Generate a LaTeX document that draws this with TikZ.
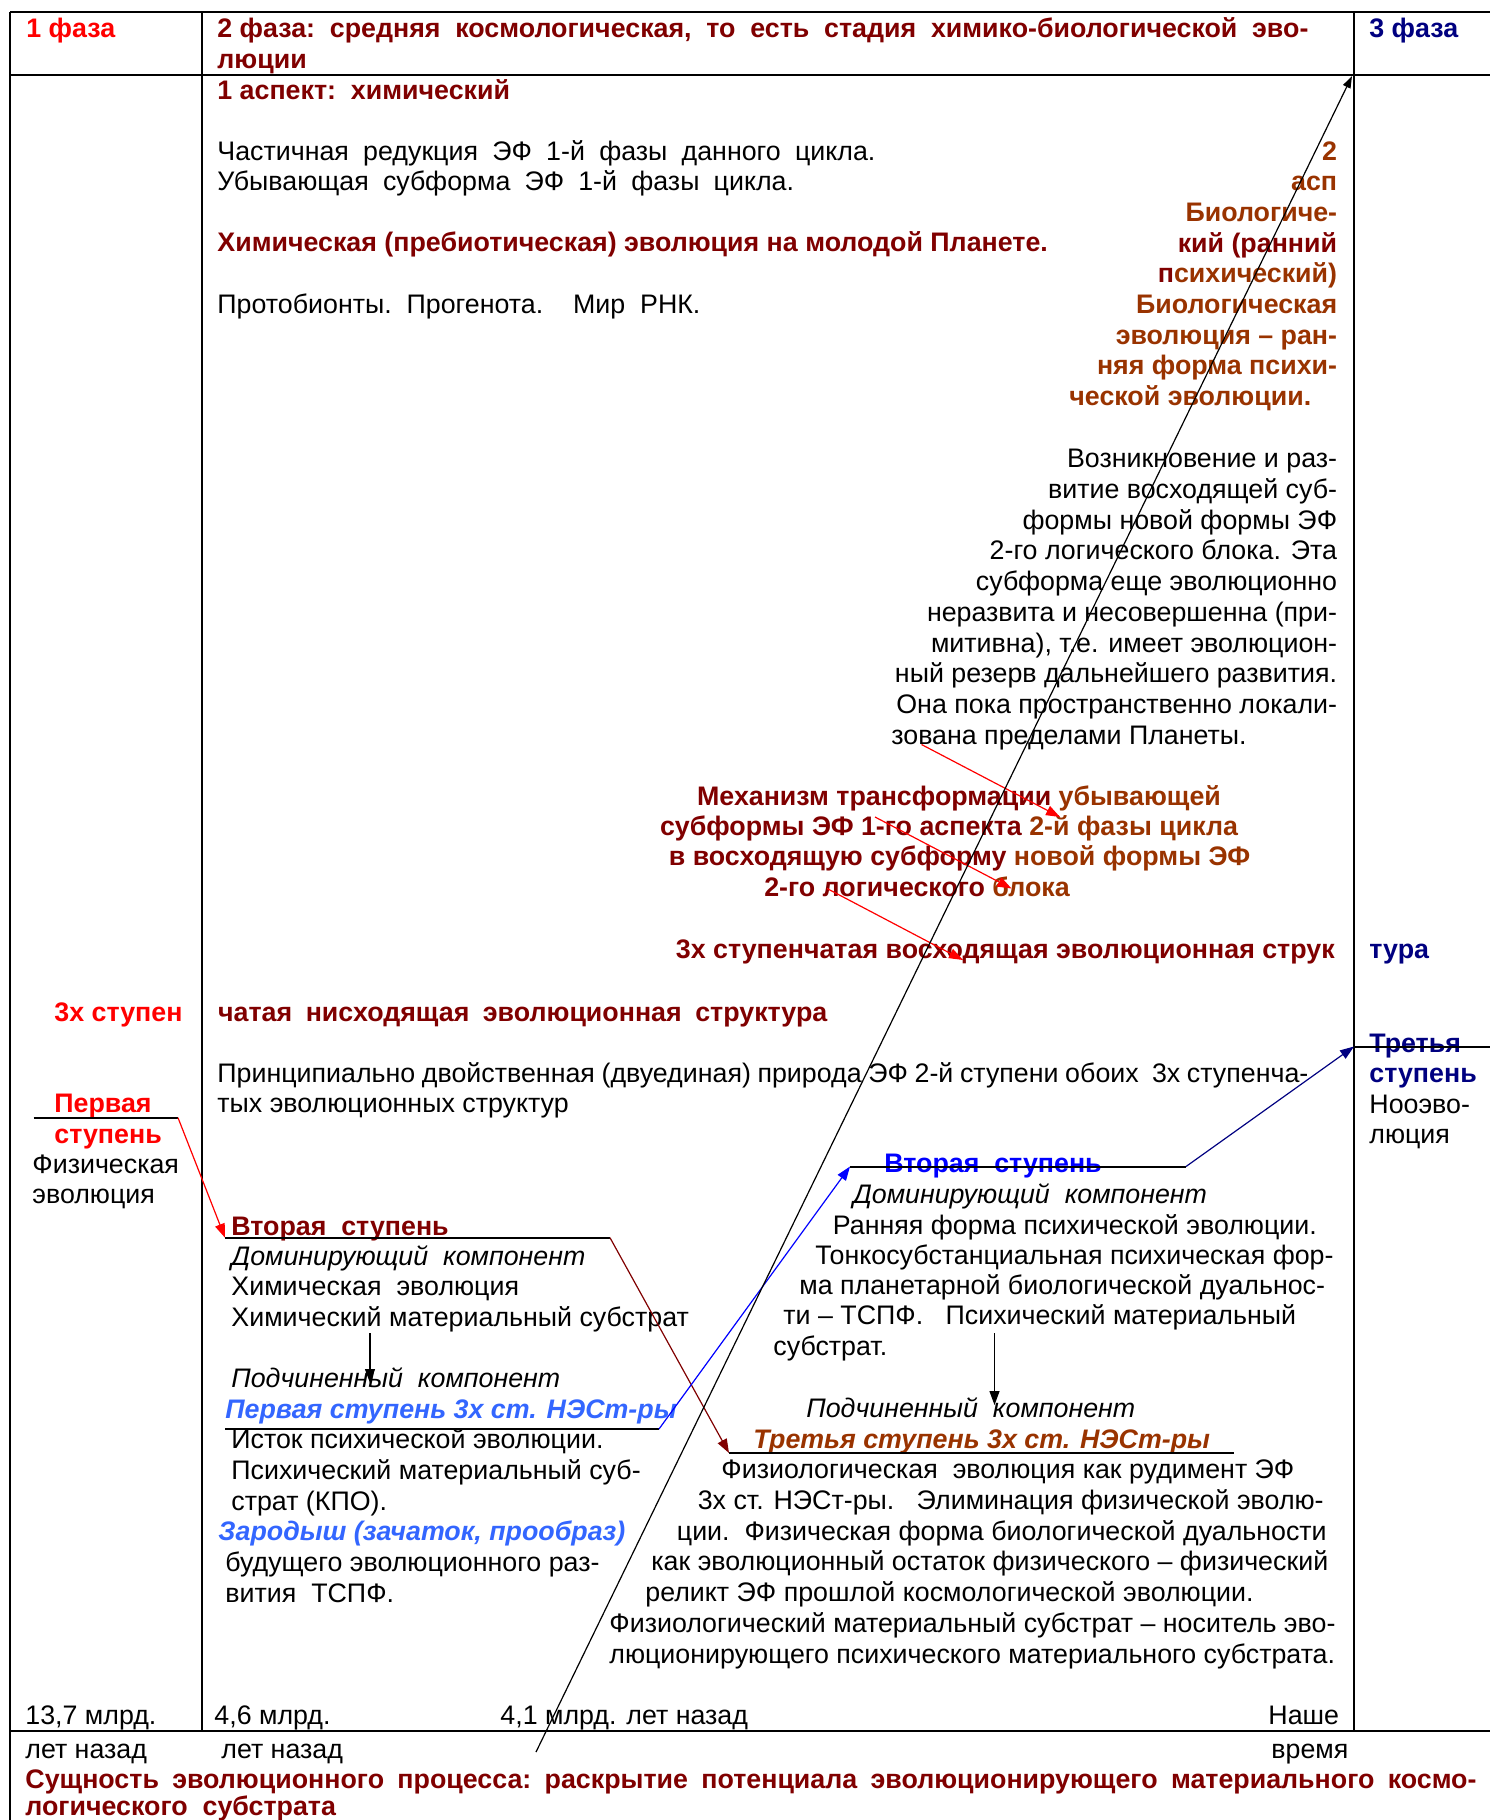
\documentclass[tikz,border=0pt]{standalone}
\usepackage{fontspec}
\setmainfont{Liberation Sans}
\usetikzlibrary{arrows.meta}
\definecolor{phasered}{RGB}{255,0,0}
\definecolor{maroonred}{RGB}{128,0,0}
\definecolor{rustbrown}{RGB}{153,51,0}
\definecolor{navyblue}{RGB}{0,0,128}
\definecolor{brightblue}{RGB}{51,102,255}
\definecolor{pureblue}{RGB}{0,0,255}
\newcommand\bodysize{\fontsize{13.4}{15.25}\selectfont}

\begin{document}
\begin{tikzpicture}[x=0.5pt,y=-0.5pt,
    every node/.style={inner sep=0pt,font=\bodysize},
    lft/.style={anchor=base west},
    rgt/.style={anchor=base east},
    bf/.style={font=\bodysize\bfseries},
    itl/.style={font=\bodysize\itshape},
    bfit/.style={font=\bodysize\bfseries\itshape},
    rule/.style={line width=1pt},
    link/.style={line width=0.6pt},
    tipped/.style={-{Triangle[length=7pt,width=5pt]}}]
    \useasboundingbox (0,0) rectangle (1490,1820);

    % table frame
    \draw[rule] (10,12) -- (1490,12);
    \draw[rule] (10,75) -- (1490,75);
    \draw[rule] (10,1731) -- (1490,1731);
    \draw[rule] (10,12) -- (10,1820);
    \draw[rule] (202,12) -- (202,1731);
    \draw[rule] (1354,12) -- (1354,1731);

    % header row
    \node[lft,bf,text=phasered] (ph1) at (26,37) {1 фаза};
    \node[lft,bf,text=maroonred] (ph2) at (217,37) {\makebox[545.5pt][s]{2 фаза:\ \ средняя\ \ космологическая,\ \ то\ \ есть\ \ стадия\ \ химико-биологической\ \ эво-}};
    \node[lft,bf,text=maroonred] (ph2b) at (217,68) {люции};
    \node[lft,bf,text=navyblue] (ph3) at (1369,37) {3 фаза};

    % first aspect
    \node[lft,bf,text=maroonred] (asp1) at (217,99.5) {1 аспект:\ \ химический};
    \node[lft] (red1) at (217,160) {\makebox[329pt][s]{Частичная редукция ЭФ 1-й фазы данного цикла.}};
    \node[lft] (red2) at (217,190) {\makebox[288.3pt][s]{Убывающая субформа ЭФ 1-й фазы цикла.}};
    \node[lft,bf,text=maroonred] (chem) at (217,251.7) {Химическая (пребиотическая) эволюция на молодой Планете.};
    \node[lft] (proto) at (217,313) {Протобионты.\ \ Прогенота.\ \ \ \ Мир\ \ РНК.};

    % second aspect
    \foreach \t [count=\i] in {2, асп, Биологиче-, {\color{maroonred}кий (ранний}, {\color{maroonred}п}сихический), Биологическая, эволюция – ран-, няя форма психи-}
        \node[rgt,bf,text=rustbrown] (bio\i) at (1337.5,{129.3+30.7*\i}) {\t};
    \node[lft,bf,text=rustbrown] (bio9) at (1069,405) {ческой эволюции.};

    \foreach \t [count=\i] in {Возникновение и раз-, витие восходящей суб-, формы новой формы ЭФ, 2-го логического блока. Эта, субформа еще эволюционно, неразвита и несовершенна (при-, {митивна), т.е. имеет эволюцион-}, ный резерв дальнейшего развития., Она пока пространственно локали-}
        \node[rgt] (rise\i) at (1337.5,{437.1+30.7*\i}) {\t};
    \node[lft] (rise10) at (891,744.5) {зована пределами Планеты.};

    % mechanism
    \node[bf,anchor=base] (mech1) at (959,805) {\color{maroonred}Механизм трансформации \color{rustbrown}убывающей};
    \node[bf,anchor=base] (mech2) at (949,835) {\color{maroonred}субформы ЭФ 1-го аспекта \color{rustbrown}2-й фазы цикла};
    \node[bf,anchor=base] (mech3) at (959.5,865.5) {\color{maroonred}в восходящую субформу \color{rustbrown}новой формы ЭФ};
    \node[bf,anchor=base] (mech4) at (917,896) {\color{maroonred}2-го логического \color{rustbrown}блока};

    \node[lft,bf,text=maroonred] (up1) at (675.5,958.5) {3х ступенчатая восходящая эволюционная струк};
    \node[lft,bf,text=navyblue] (up2) at (1369,958.5) {тура};
    \node[lft,bf,text=phasered] (down1) at (54,1021) {3х ступен};
    \node[lft,bf,text=maroonred] (down2) at (217.7,1021) {\makebox[304.6pt][s]{чатая нисходящая эволюционная структура}};
    \node[lft] (dual1) at (217,1082.5) {\makebox[545.5pt][s]{Принципиально двойственная (двуединая) природа ЭФ 2-й ступени обоих\ \ 3х ступенча-}};
    \node[lft] (dual2) at (217,1112.5) {тых эволюционных структур};

    % first step (phase 1)
    \node[lft,bf,text=phasered] (fs1) at (54,1112.5) {Первая};
    \node[lft,bf,text=phasered] (fs2) at (54,1143) {ступень};
    \node[lft] (fs3) at (32,1173.5) {Физическая};
    \node[lft] (fs4) at (32,1203.5) {эволюция};

    % third step (phase 3)
    \node[lft,bf,text=navyblue] (ts1) at (1369,1052.5) {Третья};
    \node[lft,bf,text=navyblue] (ts2) at (1369,1082) {ступень};
    \node[lft] (ts3) at (1369,1113) {Нооэво-};
    \node[lft] (ts4) at (1369,1143.5) {люция};

    % second step, chemical
    \node[lft,bf,text=maroonred] (cs1) at (231,1235) {Вторая\ \ ступень};
    \node[lft,itl] (cs2) at (231,1265.5) {Доминирующий\ \ компонент};
    \node[lft] (cs3) at (231,1295.5) {Химическая\ \ эволюция};
    \node[lft] (cs4) at (231,1326.2) {Химический материальный субстрат};
    \node[lft,itl] (cs5) at (231,1387.2) {Подчиненный\ \ компонент};
    \node[lft,bfit,text=brightblue] (cs6) at (225,1418.8) {Первая ступень 3х ст. НЭСт-ры};
    \node[lft] (cs7) at (231,1448.8) {Исток психической эволюции.};
    \node[lft] (cs8) at (231,1479.5) {Психический материальный суб-};
    \node[lft] (cs9) at (231,1510.5) {страт (КПО).};
    \node[lft,bfit,text=brightblue] (cs10) at (218,1540.5) {Зародыш (зачаток, прообраз)};
    \node[lft] (cs11) at (225,1571.2) {будущего эволюционного раз-};
    \node[lft] (cs12) at (225,1602.2) {вития\ \ ТСПФ.};

    % second step, biological
    \node[lft,bf,text=pureblue] (bs1) at (884,1172.2) {Вторая\ \ ступень};
    \node[lft,itl] (bs2) at (852.6,1203.8) {Доминирующий\ \ компонент};
    \foreach \x/\y/\t [count=\i from 3] in {832.5/1234.5/{Ранняя форма психической эволюции.}, 815/1264.5/{Тонкосубстанциальная психическая фор-}, 799/1294.5/{ма планетарной биологической дуальнос-}, 783/1324.5/{ти – ТСПФ.\ \ \ Психический материальный}, 773/1355.5/{субстрат.}}
        \node[lft] (bs\i) at (\x,\y) {\t};
    \node[lft,itl] (bs8) at (806,1417.8) {Подчиненный\ \ компонент};
    \node[lft,bfit,text=rustbrown] (bs9) at (753,1448.8) {Третья ступень 3х ст. НЭСт-ры};
    \foreach \x/\y/\t [count=\i from 10] in {721/1478.8/{Физиологическая\ \ эволюция как рудимент ЭФ}, 697.4/1509.5/{3х ст. НЭСт-ры.\ \ \ Элиминация физической эволю-}, 676.5/1540.2/{ции.\ \ Физическая форма биологической дуальности}, 651/1570.5/{как эволюционный остаток физического – физический}, 645/1601.5/{реликт ЭФ прошлой космологической эволюции.}, 609/1632.5/{Физиологический материальный субстрат – носитель эво-}, 609/1663.5/{люционирующего психического материального субстрата.}}
        \node[lft] (bs\i) at (\x,\y) {\t};

    % time axis
    \node[lft] (t1) at (25,1724) {13,7 млрд.};
    \node[lft] (t2) at (214,1724) {4,6 млрд.};
    \node[lft] (t3) at (500,1724) {4,1 млрд. лет назад};
    \node[lft] (t4) at (1268,1724) {Наше};
    \node[lft] (t1b) at (25,1758.5) {лет назад};
    \node[lft] (t2b) at (221,1758.5) {лет назад};
    \node[lft] (t4b) at (1271,1758.5) {время};
    \node[lft,bf,text=maroonred] (ess1) at (25,1788) {\makebox[725.5pt][s]{Сущность\ \ эволюционного\ \ процесса:\ \ раскрытие\ \ потенциала\ \ эволюционирующего\ \ материального\ \ космо-}};
    \node[lft,bf,text=maroonred] (ess2) at (25,1815) {логического\ \ субстрата};

    % step lines and connectors
    \coordinate (st1a) at (33.5,1117.7);
    \coordinate (st1b) at (178,1117.7);
    \coordinate (st2a) at (225,1237.7);
    \coordinate (st2b) at (610,1237.7);
    \coordinate (st3a) at (729,1453);
    \coordinate (st3b) at (1234,1453);
    \coordinate (ne1a) at (225,1429);
    \coordinate (ne1b) at (659,1429);
    \coordinate (ne2a) at (850,1166.5);
    \coordinate (ne2b) at (1186,1166.5);
    \coordinate (ne3a) at (1354,1046.5);
    \coordinate (ne3b) at (1490,1046.5);
    \draw[rule] (st1a) -- (st1b);
    \draw[link,phasered,tipped] (st1b) -- (st2a);
    \draw[rule] (st2a) -- (st2b);
    \draw[link,maroonred,tipped] (st2b) -- (st3a);
    \draw[rule] (st3a) -- (st3b);
    \draw[rule] (ne1a) -- (ne1b);
    \draw[link,pureblue,tipped] (ne1b) -- (ne2a);
    \draw[rule] (ne2a) -- (ne2b);
    \draw[link,navyblue,tipped] (ne2b) -- (ne3a);
    \draw[rule] (ne3a) -- (ne3b);

    % dominant -> subordinate
    \coordinate (dn1a) at (370,1333);
    \coordinate (dn1b) at (370,1383);
    \coordinate (dn2a) at (994.5,1333);
    \coordinate (dn2b) at (994.5,1405);
    \draw[link,tipped] (dn1a) -- (dn1b);
    \draw[link,tipped] (dn2a) -- (dn2b);

    % mechanism arrows
    \coordinate (mr1a) at (921.5,744.5);
    \coordinate (mr1b) at (1060,817);
    \coordinate (mr2a) at (875,817);
    \coordinate (mr2b) at (1011.5,888.5);
    \coordinate (mr3a) at (827,888.5);
    \coordinate (mr3b) at (963,960);
    \draw[link,phasered,tipped] (mr1a) -- (mr1b);
    \draw[link,phasered,tipped] (mr2a) -- (mr2b);
    \draw[link,phasered,tipped] (mr3a) -- (mr3b);

    % time arrow
    \coordinate (dlow) at (536,1752);
    \coordinate (dtop) at (1352,76);
    \draw[link,-{Triangle[length=6pt,width=4pt]}] (dlow) -- (dtop);
\end{tikzpicture}
\end{document}
